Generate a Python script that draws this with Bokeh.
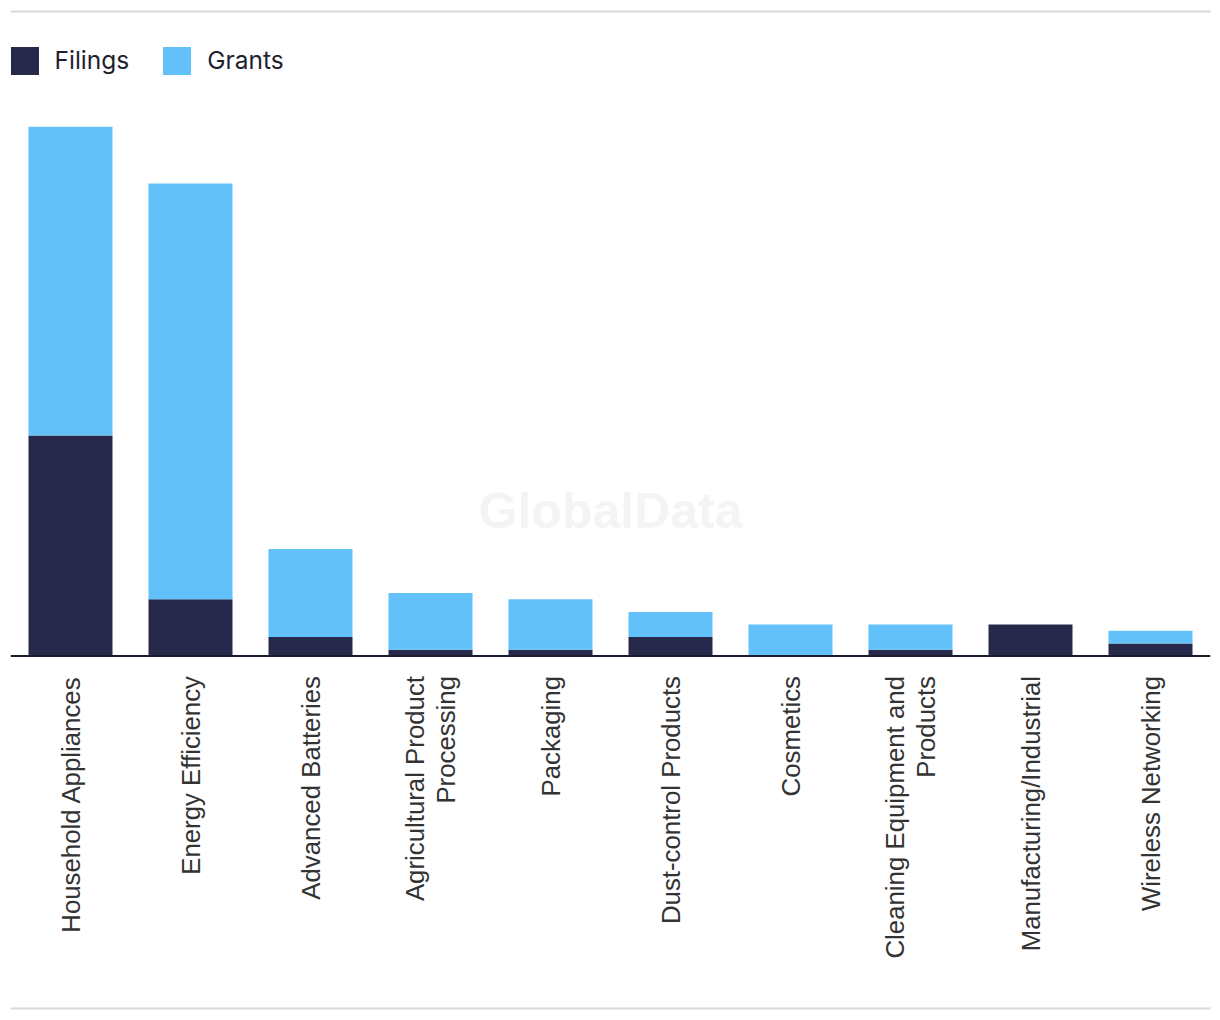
import math
from bokeh.plotting import figure
from bokeh.models import FactorRange, Range1d, Span, LinearAxis
from bokeh.core.properties import value
from bokeh.embed import file_html
from bokeh.resources import INLINE

categories = [
    "Household Appliances",
    "Energy Efficiency",
    "Advanced Batteries",
    "Agricultural Product\nProcessing",
    "Packaging",
    "Dust-control Products",
    "Cosmetics",
    "Cleaning Equipment and\nProducts",
    "Manufacturing/Industrial",
    "Wireless Networking",
]
filings = [35, 9, 3, 1, 1, 3, 0, 1, 5, 2]
grants = [49, 66, 14, 9, 8, 4, 5, 4, 0, 2]
series = ["Filings", "Grants"]
colors = ["#27294b", "#62c1f8"]

W, H = 1220, 1020
top_px, bottom_px = 11, 1008
base_px = 655.5
unit_px = 6.3
y_end = (base_px - top_px) / unit_px
y_start = -(bottom_px - base_px) / unit_px

p = figure(
    width=W, height=H,
    x_range=FactorRange(*categories, range_padding=0),
    y_range=Range1d(y_start, y_end),
    output_backend="svg", toolbar_location=None,
    min_border_left=10, min_border_right=10,
    min_border_top=top_px, min_border_bottom=H - bottom_px,
    x_axis_location=None, y_axis_location=None,
)
p.xgrid.visible = False
p.ygrid.visible = False
p.outline_line_color = None
p.background_fill_color = "white"
p.border_fill_color = "white"

# top and bottom rules
for side in ("above", "below"):
    ax = LinearAxis(axis_line_color="#d9d9d9", axis_line_width=2,
                    major_tick_line_color=None, minor_tick_line_color=None,
                    major_label_text_font_size="0px")
    ax.ticker.desired_num_ticks = 0
    p.add_layout(ax, side)

# watermark
p.text(x=["Packaging"], y=[0], text=["GlobalData"], x_offset=60, y_offset=-145,
       text_font=value("Liberation Sans"), text_font_style="bold",
       text_font_size="50px", text_color="#f4f4f4",
       text_align="center", text_baseline="middle")

data = dict(cat=categories, Filings=filings, Grants=grants)
rs = p.vbar_stack(series, x="cat", width=0.7, color=colors, line_color=None,
                  source=data, legend_label=series)

p.add_layout(Span(location=0, dimension="width", line_color="#1b1b2e", line_width=2))

p.text(x=categories, y=[0] * len(categories), text=categories,
       angle=math.pi / 2, y_offset=20,
       text_font=value("Liberation Sans"), text_font_size="25.8px", text_color="#333333",
       text_align="right", text_baseline="middle", text_line_height=1.14)

lg = p.legend[0]
lg.orientation = "horizontal"
lg.location = (-3.5, (bottom_px - top_px) - 31.5 - 35)
lg.glyph_width = 35
lg.glyph_height = 35
lg.label_height = 35
lg.label_standoff = 13
lg.spacing = 30
lg.padding = 0
lg.margin = 0
lg.border_line_color = None
lg.background_fill_alpha = 0
lg.label_text_font = "Inter"
lg.label_text_font_size = "24.5px"
lg.label_text_color = "#1e1e2e"

open("out.html", "w").write(file_html(p, INLINE))
